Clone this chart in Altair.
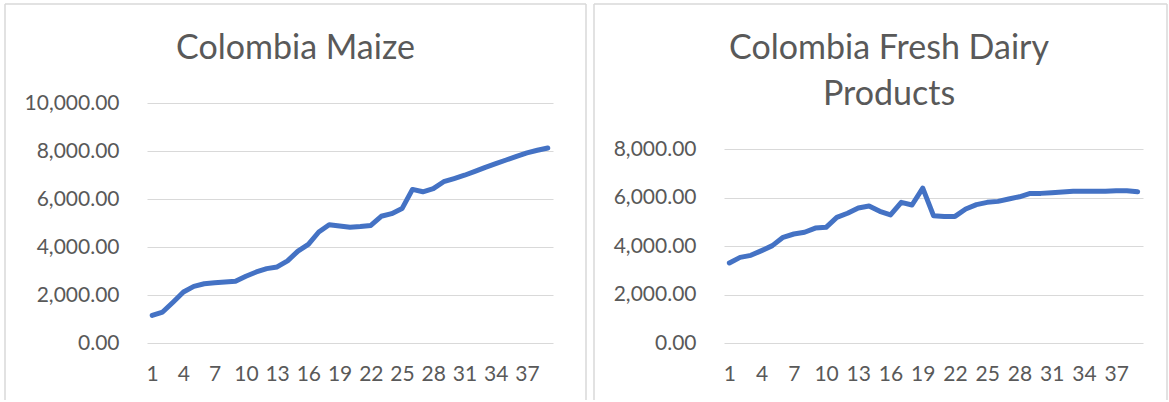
import altair as alt
import pandas as pd

periods = list(range(1, 40))
tick_values = list(range(1, 38, 3))

maize = [1150, 1290, 1700, 2125, 2360, 2470, 2510, 2540, 2570, 2780,
         2960, 3100, 3170, 3420, 3830, 4110, 4625, 4930, 4875, 4820,
         4850, 4900, 5280, 5390, 5600, 6400, 6300, 6430, 6720, 6850,
         6990, 7150, 7320, 7470, 7625, 7780, 7920, 8030, 8125]

dairy = [3300, 3530, 3615, 3810, 4015, 4360, 4495, 4565, 4740, 4770,
         5180, 5350, 5570, 5650, 5430, 5280, 5800, 5690, 6390, 5250,
         5220, 5220, 5525, 5705, 5800, 5840, 5940, 6030, 6170, 6170,
         6200, 6225, 6255, 6255, 6255, 6255, 6280, 6280, 6240]

titles = ["Colombia Maize", "Colombia Fresh Dairy\nProducts"]
y_max = [10000, 8000]

FONT = "Lato"
TXT = "#595959"
GRID = "#d9d9d9"
BORDER = "#d9d9d9"
H = 240


def panel(values, title, ymax, width, range_top, bx1, bx2, tx):
    df = pd.DataFrame({"period": periods, "value": values})
    line = alt.Chart(df).mark_line(
        color="#4472C4", strokeWidth=5, strokeCap="round", strokeJoin="round"
    ).encode(
        x=alt.X("period:Q", title=None,
                scale=alt.Scale(domain=[0.5, 39.5], nice=False, zero=False),
                axis=alt.Axis(values=tick_values, grid=False, ticks=False, domain=False,
                              labelFont=FONT, labelFontSize=21, labelColor=TXT,
                              labelPadding=20, labelOverlap=False, labelFlush=False)),
        y=alt.Y("value:Q", title=None,
                scale=alt.Scale(domain=[0, ymax], nice=False, range=[H, range_top]),
                axis=alt.Axis(values=list(range(0, ymax + 1, 2000)), format=",.2f",
                              grid=True, gridColor=GRID, gridWidth=1.2,
                              ticks=False, domain=False,
                              labelFont=FONT, labelFontSize=21, labelColor=TXT,
                              labelPadding=28)),
    )
    one = pd.DataFrame({"t": [title]})
    ttl = alt.Chart(one).mark_text(
        font=FONT, fontSize=34, color=TXT, align="center", baseline="alphabetic",
        lineBreak="\n", lineHeight=46
    ).encode(text="t:N", x=alt.value(tx), y=alt.value(-44))
    top = alt.Chart(one).mark_rule(color=BORDER, strokeWidth=1.5).encode(
        x=alt.value(bx1), x2=alt.value(bx2), y=alt.value(-99))
    left = alt.Chart(one).mark_rule(color=BORDER, strokeWidth=1.5).encode(
        x=alt.value(bx1), y=alt.value(-99), y2=alt.value(297))
    right = alt.Chart(one).mark_rule(color=BORDER, strokeWidth=1.5).encode(
        x=alt.value(bx2), y=alt.value(-99), y2=alt.value(297))
    return alt.layer(top, left, right, line, ttl).properties(width=width, height=H)


p1 = panel(maize, titles[0], y_max[0], 406, 0, -142, 439, 148.5)
p2 = panel(dairy, titles[1], y_max[1], 419, 46, -130, 443, 165)

chart = alt.hconcat(p1, p2, spacing=171, bounds="flush").properties(
    padding={"left": 4, "top": 3, "right": 0, "bottom": 0},
    background="white",
).configure_view(strokeWidth=0)

chart.save("out.html", embed_options={"renderer": "svg", "actions": False})
